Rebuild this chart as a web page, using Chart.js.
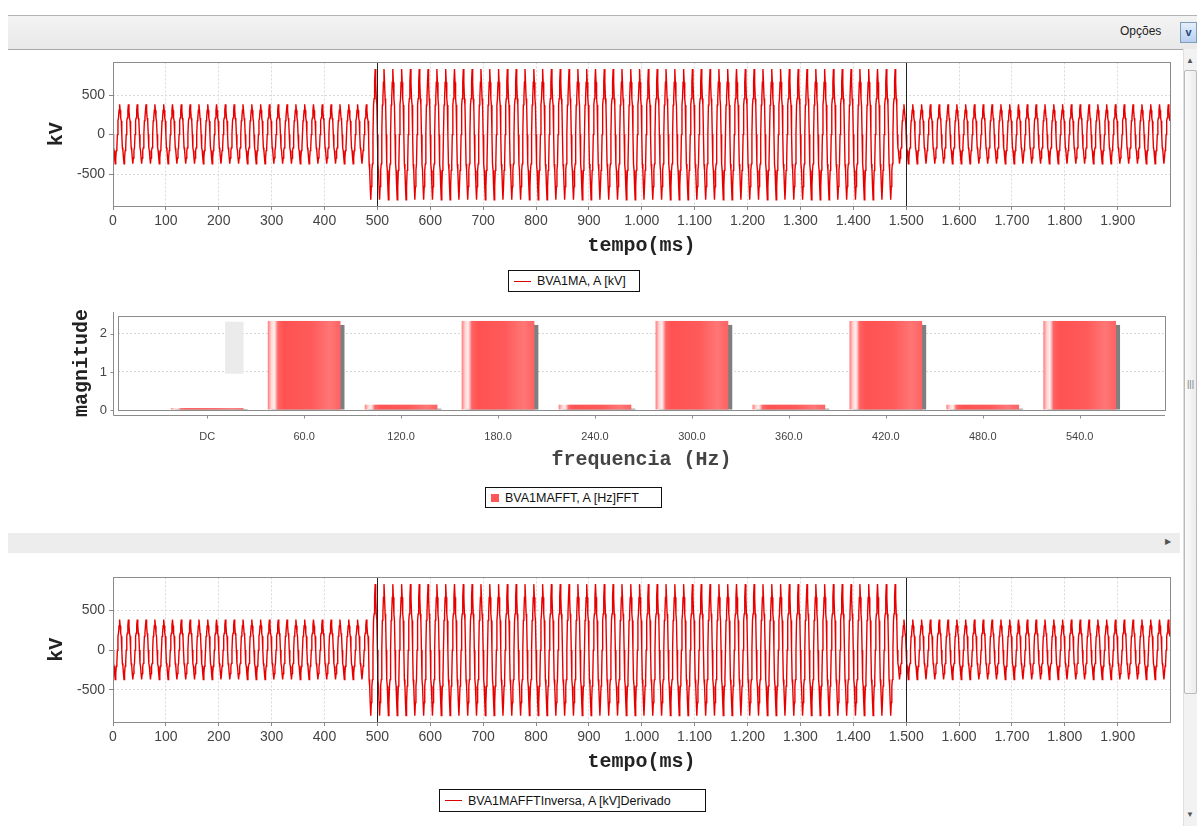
<!DOCTYPE html>
<html>
<head>
<meta charset="utf-8">
<script src="https://cdn.jsdelivr.net/npm/chart.js@4.4.1/dist/chart.umd.min.js"></script>
<style>
html, body { margin: 0; padding: 0; background: #fff; width: 1197px; height: 826px; overflow: hidden; font-family: "Liberation Sans", Arial, sans-serif; }
.abs { position: absolute; }
#barra { left: 8px; top: 15px; width: 1189px; height: 33px; background: linear-gradient(#f3f3f3, #e9e9e9); border-top: 1px solid #b5b5b5; border-bottom: 1px solid #a8a8a8; }
#opcoes { left: 1120px; top: 24px; font-size: 12px; color: #222; }
#botao { left: 1180px; top: 22px; width: 15px; height: 19px; border: 1px solid #7f9db9; background: linear-gradient(#e4eefc, #b9cff0); color: #23457a; font-size: 11px; font-weight: bold; text-align: center; line-height: 19px; }
#rolagem { left: 1183px; top: 49px; width: 14px; height: 777px; background: #f2f2f2; border-left: 1px solid #dedede; }
#polegar { left: 1184px; top: 70px; width: 11px; height: 622px; background: linear-gradient(90deg, #fafafa, #ececec); border: 1px solid #b9b9b9; border-radius: 2px; }
#grip { left: 1187px; top: 379px; font-size: 9px; color: #777; }
.seta { font-size: 8px; color: #555; }
#separador { left: 8px; top: 533px; width: 1172px; height: 20px; background: #ededed; }
.leg { border: 1px solid #111; background: #fff; font-size: 12.5px; color: #111; display: flex; align-items: center; box-sizing: border-box; padding-left: 5px; white-space: nowrap; }
.leg .linha { display: inline-block; width: 17px; height: 1px; background: #e00000; margin-right: 6px; }
.leg .quad { display: inline-block; width: 8px; height: 8px; background: #ff5555; margin-right: 6px; }
canvas { position: absolute; left: 0; }
</style>
</head>
<body>
<div class="abs" id="barra"></div>
<div class="abs" id="opcoes">Opções</div>
<div class="abs" id="botao">v</div>
<div class="abs" id="rolagem"></div>
<div class="abs" id="polegar"></div>
<div class="abs" id="grip">|||</div>
<div class="abs seta" style="left:1186px;top:56px">▲</div>
<div class="abs seta" style="left:1186px;top:810px">▼</div>
<div class="abs" id="separador"></div>
<div class="abs seta" style="left:1165px;top:537px">▶</div>

<canvas id="graficoSinal" width="1180" height="208" style="top:50px"></canvas>
<div class="abs leg" id="legSinal" style="left:508px;top:270px;width:132px;height:22px"></div>

<canvas id="graficoFFT" width="1180" height="176" style="top:296px"></canvas>
<div class="abs leg" id="legFFT" style="left:485px;top:487px;width:177px;height:21px"></div>

<canvas id="graficoInversa" width="1180" height="209" style="top:565px"></canvas>
<div class="abs leg" id="legInversa" style="left:439px;top:789px;width:267px;height:23px"></div>

<script>
// forma de um ciclo (60 Hz), normalizada pelo pico
const cicloForma = [0, -0.45, -0.55, -0.8, -1, -0.8, -0.55, -0.45, 0, 0.45, 0.55, 0.8, 1, 0.8, 0.55, 0.45];
const trechoCiclos = [29, 60, 31];
const trechoPico = [385, 830, 385];
const trechoVale = [-370, -825, -370];
const freqFund = 60;
const marcasTempo = [500, 1500];
const ticksTempo = [0, 100, 200, 300, 400, 500, 600, 700, 800, 900, 1000, 1100, 1200, 1300, 1400, 1500, 1600, 1700, 1800, 1900];
const ticksKV = [-500, 0, 500];

const fftCategorias = ['DC', '60.0', '120.0', '180.0', '240.0', '300.0', '360.0', '420.0', '480.0', '540.0'];
const fftMagnitude = [0.05, 2.34, 0.14, 2.34, 0.14, 2.34, 0.14, 2.34, 0.14, 2.34];
const fftFantasma = [{ x: 0.28, y: [0.95, 2.32] }];
const ticksMag = [0, 1, 2];

const nomeSinal = 'BVA1MA, A [kV]';
const nomeFFT = 'BVA1MAFFT, A [Hz]FFT';
const nomeInversa = 'BVA1MAFFTInversa, A [kV]Derivado';

const fonteTick = { family: 'Liberation Sans', size: 14 };
const fonteTitulo = { family: 'Liberation Mono', size: 20, weight: 'bold' };

function montaSinal() {
    const pts = [];
    const dt = 1000 / freqFund / cicloForma.length;
    let n = 0;
    trechoCiclos.forEach(function (nc, s) {
        for (let c = 0; c < nc; c++) {
            cicloForma.forEach(function (v) {
                pts.push({ x: n * dt, y: v >= 0 ? v * trechoPico[s] : -v * trechoVale[s] });
                n++;
            });
        }
    });
    return pts;
}

function fmtMs(v) {
    if (v >= 1000) return Math.floor(v / 1000) + '.' + String(v % 1000).padStart(3, '0');
    return String(v);
}

const moldura = {
    id: 'moldura',
    afterDraw: function (chart) {
        const a = chart.chartArea, ctx = chart.ctx;
        ctx.save();
        ctx.strokeStyle = '#8c8c8c';
        ctx.lineWidth = 1;
        ctx.strokeRect(Math.round(a.left) + 0.5, Math.round(a.top) + 0.5, Math.round(a.right - a.left), Math.round(a.bottom - a.top));
        ctx.restore();
    }
};

const marcas = {
    id: 'marcas',
    afterDatasetsDraw: function (chart) {
        const a = chart.chartArea, ctx = chart.ctx, sx = chart.scales.x;
        ctx.save();
        ctx.strokeStyle = '#222';
        ctx.lineWidth = 1;
        marcasTempo.forEach(function (t) {
            const px = Math.round(sx.getPixelForValue(t)) + 0.5;
            ctx.beginPath();
            ctx.moveTo(px, a.top);
            ctx.lineTo(px, a.bottom);
            ctx.stroke();
        });
        ctx.restore();
    }
};

function graficoOnda(id, nome, dados) {
    return new Chart(document.getElementById(id), {
        type: 'line',
        data: {
            datasets: [{
                label: nome,
                data: dados,
                borderColor: '#e80000',
                borderWidth: 1.4,
                pointRadius: 0,
                tension: 0,
                fill: false
            }]
        },
        options: {
            responsive: false,
            animation: false,
            layout: { padding: { top: 7, left: 41, right: 10, bottom: 0 } },
            plugins: { legend: { display: false }, tooltip: { enabled: false } },
            scales: {
                x: {
                    type: 'linear', min: 0, max: 1999,
                    afterBuildTicks: function (s) { s.ticks = ticksTempo.map(function (v) { return { value: v }; }); },
                    afterFit: function (s) { s.height = 52; },
                    ticks: { autoSkip: false, maxRotation: 0, font: fonteTick, color: '#444', padding: 3, callback: fmtMs },
                    grid: { color: '#dadada', tickColor: '#888', tickLength: 4 },
                    border: { display: false, dash: [2, 2] },
                    title: { display: true, text: 'tempo(ms)', font: fonteTitulo, color: '#222', padding: 0 }
                },
                y: {
                    min: -905, max: 915,
                    afterBuildTicks: function (s) { s.ticks = ticksKV.map(function (v) { return { value: v }; }); },
                    afterFit: function (s) { s.width = 72; },
                    ticks: { font: fonteTick, color: '#444', padding: 4 },
                    grid: { color: '#dadada', tickColor: '#888', tickLength: 4 },
                    border: { display: false, dash: [2, 2] },
                    title: { display: true, text: 'kV', font: fonteTitulo, color: '#222', padding: 4 }
                }
            }
        },
        plugins: [moldura, marcas]
    });
}

const barrasGradiente = {
    id: 'barrasGradiente',
    beforeDatasetDraw: function (chart, args) {
        if (args.index !== 0) return;
        const ctx = chart.ctx, a = chart.chartArea;
        const barras = args.meta.data;
        ctx.save();
        ctx.beginPath();
        ctx.rect(a.left, a.top, a.right - a.left, a.bottom - a.top);
        ctx.clip();
        barras.forEach(function (el) {
            const esq = el.x - el.width / 2;
            ctx.fillStyle = '#7f7f7f';
            ctx.fillRect(esq + 4, el.y + 4, el.width, el.base - el.y - 4);
        });
        barras.forEach(function (el) {
            const esq = el.x - el.width / 2;
            const g = ctx.createLinearGradient(esq, 0, esq + el.width, 0);
            g.addColorStop(0, '#ff7a7a');
            g.addColorStop(0.05, '#ffd6d6');
            g.addColorStop(0.09, '#fff0f0');
            g.addColorStop(0.14, '#ff6464');
            g.addColorStop(0.22, '#ff5252');
            g.addColorStop(0.6, '#ff5a5a');
            g.addColorStop(0.85, '#ff7676');
            g.addColorStop(1, '#ff6262');
            ctx.fillStyle = g;
            ctx.fillRect(esq, el.y, el.width, el.base - el.y);
        });
        ctx.restore();
        return false;
    }
};

const eixosDeslocados = {
    id: 'eixosDeslocados',
    afterDraw: function (chart) {
        const a = chart.chartArea, ctx = chart.ctx;
        const sx = chart.scales.x, sy = chart.scales.y;
        const xe = Math.round(a.left) - 4.5, yb = Math.round(a.bottom) + 5.5;
        ctx.save();
        ctx.strokeStyle = '#8c8c8c';
        ctx.lineWidth = 1;
        ctx.beginPath();
        ctx.moveTo(xe, a.top - 4);
        ctx.lineTo(xe, yb);
        ctx.moveTo(xe, yb);
        ctx.lineTo(a.right, yb);
        ticksMag.forEach(function (v) {
            const py = Math.round(sy.getPixelForValue(v)) + 0.5;
            ctx.moveTo(xe - 3, py);
            ctx.lineTo(xe, py);
        });
        fftCategorias.forEach(function (c, i) {
            const px = Math.round(sx.getPixelForValue(i)) + 0.5;
            ctx.moveTo(px, yb);
            ctx.lineTo(px, yb + 3);
        });
        ctx.stroke();
        ctx.restore();
    }
};

graficoOnda('graficoSinal', nomeSinal, montaSinal());

new Chart(document.getElementById('graficoFFT'), {
    type: 'bar',
    data: {
        datasets: [{
            label: nomeFFT,
            data: fftMagnitude.map(function (m, i) { return { x: i, y: m }; }),
            backgroundColor: '#ff5555',
            barPercentage: 0.75,
            categoryPercentage: 1,
            grouped: false,
            xAxisID: 'x'
        }, {
            label: 'realce',
            data: fftFantasma,
            backgroundColor: '#ebebeb',
            barPercentage: 0.19,
            categoryPercentage: 1,
            grouped: false,
            xAxisID: 'x2'
        }]
    },
    options: {
        responsive: false,
        animation: false,
        layout: { padding: { top: 20, left: 66, right: 15, bottom: 0 } },
        plugins: { legend: { display: false }, tooltip: { enabled: false } },
        scales: {
            x: {
                type: 'linear', min: -0.92, max: 9.88, offset: false,
                afterBuildTicks: function (s) { s.ticks = fftCategorias.map(function (c, i) { return { value: i }; }); },
                afterFit: function (s) { s.height = 62; },
                ticks: { autoSkip: false, maxRotation: 0, font: { family: 'Liberation Sans', size: 11 }, color: '#444', padding: 12,
                    callback: function (v) { return fftCategorias[v] !== undefined ? fftCategorias[v] : ''; } },
                grid: { display: false, offset: false },
                border: { display: false },
                title: { display: true, text: 'frequencia (Hz)', font: fonteTitulo, color: '#444', padding: 0 }
            },
            x2: {
                type: 'linear', min: -0.92, max: 9.88, offset: false, display: false,
                afterBuildTicks: function (s) { s.ticks = fftCategorias.map(function (c, i) { return { value: i }; }); },
                grid: { offset: false }
            },
            y: {
                min: 0, max: 2.47,
                afterBuildTicks: function (s) { s.ticks = ticksMag.map(function (v) { return { value: v }; }); },
                afterFit: function (s) { s.width = 52; },
                ticks: { font: { family: 'Liberation Sans', size: 13 }, color: '#444', padding: 11 },
                grid: { color: '#d6d6d6', drawTicks: false },
                border: { display: false, dash: [2, 2] },
                title: { display: true, text: 'magnitude', font: fonteTitulo, color: '#222', padding: 4 }
            }
        }
    },
    plugins: [barrasGradiente, moldura, eixosDeslocados]
});

graficoOnda('graficoInversa', nomeInversa, montaSinal());

function legenda(id, nome, tipo) {
    const el = document.getElementById(id);
    const m = document.createElement('span');
    m.className = tipo;
    const t = document.createElement('span');
    t.textContent = nome;
    el.appendChild(m);
    el.appendChild(t);
}
legenda('legSinal', nomeSinal, 'linha');
legenda('legFFT', nomeFFT, 'quad');
legenda('legInversa', nomeInversa, 'linha');
</script>
</body>
</html>
